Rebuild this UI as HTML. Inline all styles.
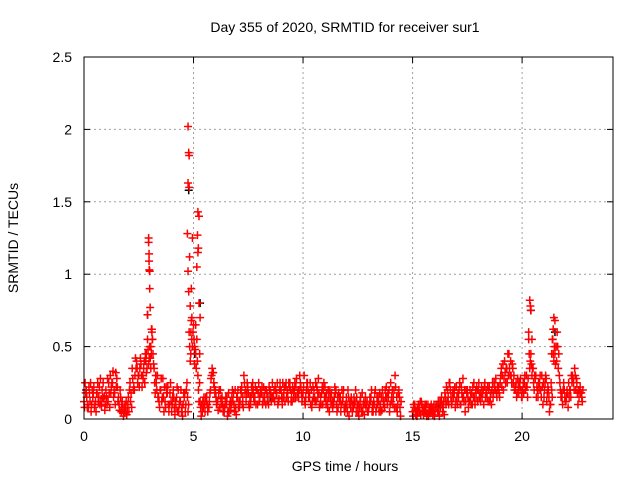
<!DOCTYPE html>
<html><head><meta charset="utf-8"><style>
body{margin:0;background:#fff;}
svg{display:block;font-family:"Liberation Sans",sans-serif;}
</style></head><body>
<svg id="chart" width="640" height="480" viewBox="0 0 640 480">
<rect x="0" y="0" width="640" height="480" fill="#fff"/>
<text x="345" y="32" font-size="14" text-anchor="middle" fill="#000">Day 355 of 2020, SRMTID for receiver sur1</text>
<text transform="translate(18,238) rotate(-90)" font-size="14" text-anchor="middle" fill="#000">SRMTID / TECUs</text>
<text x="345" y="471" font-size="14" text-anchor="middle" fill="#000">GPS time / hours</text>
<g id="grid"></g>
<g id="marks"></g>
<rect x="84" y="57" width="529" height="362" fill="none" stroke="#000" stroke-width="1"/>
<g id="ticks"></g>
</svg>
<script>
const xTicks=[0,5,10,15,20];
const yTicks=[0,0.5,1,1.5,2,2.5];
const yTickLabels=["0","0.5","1","1.5","2","2.5"];
const times=[
0,0.1,0.2,0.3,0.4,0.5,0.6,0.7,0.8,0.9,
1,1.1,1.2,1.3,1.4,1.5,1.6,1.7,1.8,1.9,
2,2.1,2.2,2.3,2.4,2.5,2.6,2.7,2.8,2.9,
3,3.1,3.2,3.3,3.4,3.5,3.6,3.7,3.8,3.9,
4,4.1,4.2,4.3,4.4,4.5,4.6,4.7,4.8,4.9,
5,5.1,5.2,5.3,5.4,5.5,5.6,5.7,5.8,5.9,
6,6.1,6.2,6.3,6.4,6.5,6.6,6.7,6.8,6.9,
7,7.1,7.2,7.3,7.4,7.5,7.6,7.7,7.8,7.9,
8,8.1,8.2,8.3,8.4,8.5,8.6,8.7,8.8,8.9,
9,9.1,9.2,9.3,9.4,9.5,9.6,9.7,9.8,9.9,
10,10.1,10.2,10.3,10.4,10.5,10.6,10.7,10.8,10.9,
11,11.1,11.2,11.3,11.4,11.5,11.6,11.7,11.8,11.9,
12,12.1,12.2,12.3,12.4,12.5,12.6,12.7,12.8,12.9,
13,13.1,13.2,13.3,13.4,13.5,13.6,13.7,13.8,13.9,
14,14.1,14.2,14.3,14.4,
15,15.1,15.2,15.3,15.4,15.5,15.6,15.7,15.8,15.9,
16,16.1,16.2,16.3,16.4,16.5,16.6,16.7,16.8,16.9,
17,17.1,17.2,17.3,17.4,17.5,17.6,17.7,17.8,17.9,
18,18.1,18.2,18.3,18.4,18.5,18.6,18.7,18.8,18.9,
19,19.1,19.2,19.3,19.4,19.5,19.6,19.7,19.8,19.9,
20,20.1,20.2,20.3,20.4,20.5,20.6,20.7,20.8,20.9,
21,21.1,21.2,21.3,21.4,21.5,21.6,21.7,21.8,21.9,
22,22.1,22.2,22.3,22.4,22.5,22.6,22.7];
const valsA=[
.12,.2,.08,.25,.15,.1,.18,.22,.09,.14,
.2,.12,.3,.25,.18,.28,.1,.05,.02,.08,
.1,.25,.35,.2,.4,.3,.38,.28,.45,.55,
.5,.62,.35,.25,.15,.2,.28,.12,.18,.1,
.05,.15,.08,.2,.12,.02,.18,.25,.6,.9,
.65,.45,.3,.12,.05,.1,.15,.08,.28,.32,
.2,.12,.08,.15,.05,.1,.18,.06,.12,.2,
.15,.08,.22,.3,.12,.18,.1,.25,.15,.2,
.12,.18,.22,.1,.15,.2,.25,.12,.18,.14,
.2,.15,.22,.18,.25,.12,.2,.28,.15,.22,
.18,.1,.25,.15,.08,.2,.12,.28,.15,.1,
.22,.12,.05,.18,.1,.2,.08,.15,.12,.05,
.1,.02,.15,.08,.2,.05,.12,.18,.03,.1,
.08,.15,.05,.2,.1,.18,.06,.12,.22,.15,
.25,.1,.3,.05,.15,
.05,.1,.02,.08,.12,.03,.06,.1,.04,.08,
.02,.1,.05,.12,.08,.15,.2,.25,.12,.18,
.22,.15,.1,.28,.05,.2,.12,.18,.25,.15,
.2,.12,.18,.25,.15,.22,.1,.18,.28,.2,
.25,.3,.4,.35,.45,.3,.25,.2,.28,.22,
.15,.25,.3,.55,.45,.35,.28,.2,.25,.3,
.15,.28,.2,.1,.55,.45,.6,.3,.18,.25,
.12,.08,.2,.3,.35,.25,.15,.18];
const valsB=[
.25,.08,.18,.1,.22,.05,.12,.28,.15,.06,
.1,.18,.22,.15,.32,.12,.2,.12,.08,.03,
.05,.18,.2,.42,.25,.35,.22,.4,.32,.38,
.35,.45,.18,.3,.08,.12,.05,.22,.1,.25,
.15,.03,.22,.1,.05,.18,.1,.05,.4,.5,
.38,.55,.12,.02,.08,.15,.05,.18,.35,.22,
.1,.18,.14,.05,.12,.02,.1,.15,.1,.03,
.08,.2,.15,.18,.25,.08,.22,.15,.1,.18,
.2,.1,.15,.18,.22,.12,.15,.2,.1,.25,
.1,.22,.15,.25,.12,.2,.15,.18,.3,.12,
.3,.2,.15,.1,.22,.12,.2,.08,.18,.25,
.1,.2,.15,.08,.22,.05,.15,.1,.2,.08,
.2,.12,.05,.1,.15,.02,.08,.1,.15,.05,
.15,.05,.1,.08,.12,.05,.15,.2,.1,.05,
.15,.2,.08,.18,.02,
.1,.03,.06,.12,.05,.08,.02,.05,.1,.06,
.08,.05,.12,.1,.03,.22,.1,.15,.2,.08,
.1,.25,.18,.12,.2,.08,.15,.22,.1,.2,
.15,.22,.1,.2,.12,.15,.25,.22,.15,.18,
.35,.2,.25,.45,.3,.38,.2,.15,.18,.2,
.25,.2,.15,.35,.3,.2,.15,.25,.2,.1,
.25,.18,.05,.2,.4,.5,.35,.2,.1,.15,
.2,.15,.3,.25,.2,.1,.22,.12];
const valsC=[
.08,.15,.22,.05,.18,.12,.25,.1,.2,.16,
.15,.25,.18,.33,.1,.22,.06,.1,.04,.12,
.15,.12,.28,.3,.35,.22,.3,.35,.4,.48,
.42,.55,.25,.2,.12,.28,.15,.08,.22,.18,
.1,.08,.15,.05,.2,.1,.05,.15,.5,.7,
.55,.35,.2,.08,.12,.05,.1,.12,.3,.25,
.15,.06,.2,.1,.08,.15,.05,.1,.18,.08,
.2,.12,.1,.25,.18,.1,.15,.2,.22,.1,
.15,.22,.12,.2,.1,.18,.15,.22,.25,.2,
.15,.18,.25,.12,.2,.22,.25,.15,.2,.18,
.22,.15,.2,.25,.12,.15,.22,.18,.1,.2,
.15,.08,.2,.12,.15,.1,.18,.05,.15,.1,
.05,.1,.12,.15,.05,.1,.15,.05,.1,.12,
.1,.2,.12,.05,.15,.1,.2,.08,.15,.2,
.12,.15,.22,.1,.08,
.02,.06,.08,.05,.1,.06,.1,.02,.08,.03,
.06,.08,.02,.15,.12,.1,.15,.2,.18,.22,
.15,.2,.22,.15,.12,.15,.2,.1,.15,.22,
.25,.18,.2,.15,.22,.12,.2,.25,.18,.22,
.3,.38,.32,.25,.35,.25,.3,.25,.22,.28,
.2,.3,.22,.45,.38,.25,.3,.15,.3,.22,
.2,.12,.15,.25,.45,.38,.5,.25,.15,.2,
.15,.25,.15,.28,.3,.18,.2,.15];
const valsD=[
.18,.1,.12,.2,.08,.18,.15,.12,.25,.1,
.28,.08,.25,.2,.22,.15,.15,.08,.1,.05,
.2,.08,.22,.35,.3,.42,.3,.25,.35,.42,
.45,.38,.3,.15,.2,.15,.22,.18,.05,.12,
.2,.12,.05,.12,.08,.15,.2,.1,.45,.6,
.48,.4,.25,.1,.15,.12,.08,.2,.32,.18,
.12,.2,.1,.08,.15,.05,.12,.2,.05,.15,
.12,.18,.08,.2,.22,.15,.18,.12,.2,.25,
.18,.15,.2,.12,.2,.15,.2,.18,.12,.2,
.25,.12,.2,.22,.18,.15,.22,.2,.25,.15,
.12,.25,.18,.2,.15,.25,.15,.1,.22,.15,
.18,.15,.1,.12,.18,.15,.12,.2,.08,.15,
.15,.08,.1,.12,.1,.08,.05,.12,.08,.05,
.12,.1,.18,.15,.05,.15,.1,.15,.18,.1,
.2,.08,.15,.2,.12,
.08,.05,.1,.03,.08,.1,.04,.08,.06,.1,
.1,.12,.08,.05,.18,.12,.25,.1,.15,.12,
.18,.1,.15,.2,.18,.12,.1,.15,.2,.12,
.18,.15,.22,.18,.2,.18,.15,.2,.22,.15,
.22,.28,.35,.3,.4,.35,.22,.18,.25,.15,
.18,.22,.28,.4,.35,.3,.22,.2,.15,.25,
.3,.22,.1,.15,.5,.4,.45,.15,.2,.12,
.18,.2,.25,.2,.28,.2,.18,.2];
const peakT=[2.95,2.95,2.97,2.97,2.98,3.0,3.0,3.02,2.9,3.08,3.1,3.12,3.05,2.85,2.8,
4.75,4.78,4.8,4.75,4.8,4.72,4.75,4.78,4.85,4.9,4.95,4.82,4.88,4.92,
5.2,5.25,5.18,5.22,5.2,5.15,5.25,5.3,5.1,5.05,5.28,
20.35,20.38,20.4,20.3,20.45,
21.45,21.5,21.42,21.38,21.55,21.35];
const peakV=[1.25,1.22,1.14,1.09,1.03,1.02,0.9,0.77,0.72,0.62,0.6,0.55,0.5,0.45,0.4,
2.02,1.84,1.82,1.63,1.6,1.28,1.02,0.88,0.78,0.68,1.25,1.12,0.6,0.55,
1.43,1.4,1.27,1.18,1.15,1.05,0.8,0.7,0.65,0.5,0.45,
0.82,0.78,0.75,0.6,0.55,
0.7,0.68,0.62,0.55,0.5,0.45];
const blackT=[4.78,5.3,2.9,5.05,0.1,8.5,12.3,16.2,20.4,21.5];
const blackV=[1.58,0.8,0.72,0.45,0.2,0.15,0.1,0.08,0.75,0.6];

const X0=84,X1=613,Y0=419,Y1=57,XMAX=24.15,YMAX=2.5;
const sx=v=>X0+(X1-X0)*v/XMAX;
const sy=v=>Y0-(Y0-Y1)*v/YMAX;
const NS="http://www.w3.org/2000/svg";
const grid=document.getElementById('grid'),ticks=document.getElementById('ticks'),marks=document.getElementById('marks');
function mk(tag,attrs,parent){const e=document.createElementNS(NS,tag);for(const k in attrs)e.setAttribute(k,attrs[k]);parent.appendChild(e);return e;}
xTicks.forEach(t=>{
 const x=sx(t);
 if(t>0){const g=mk('line',{x1:x,y1:Y0,x2:x,y2:Y1,stroke:'#a0a0a0','stroke-dasharray':'2,3'},grid);
 
 }
 const a=mk('line',{x1:x,y1:Y0,x2:x,y2:Y0-6,stroke:'#000'},ticks);
 
 
 mk('line',{x1:x,y1:Y1,x2:x,y2:Y1+6,stroke:'#000'},ticks);
 const l=mk('text',{x:x,y:441,'font-size':14,'text-anchor':'middle',fill:'#000'},ticks);
 l.textContent=String(t);
 
 
});
yTicks.forEach((t,i)=>{
 const y=sy(t);
 if(t>0&&t<YMAX){const g=mk('line',{x1:X0,y1:y,x2:X1,y2:y,stroke:'#a0a0a0','stroke-dasharray':'2,3'},grid);
 
 }
 const a=mk('line',{x1:X0,y1:y,x2:X0+6,y2:y,stroke:'#000'},ticks);
 
 
 mk('line',{x1:X1,y1:y,x2:X1-6,y2:y,stroke:'#000'},ticks);
 const l=mk('text',{x:72,y:y+5,'font-size':14,'text-anchor':'end',fill:'#000'},ticks);
 l.textContent=yTickLabels[i];
 
 
});
function plus(t,v,color){
 const x=sx(t),y=sy(v);
 const p=mk('path',{d:`M${x-4},${y}h8M${x},${y-4}v8`,stroke:color,'stroke-width':1.5,fill:'none'},marks);
 
 
}
blackT.forEach((t,i)=>plus(t,blackV[i],'#000'));
times.forEach((t,i)=>{
 plus(t,valsA[i],'#ff0000');
 plus(t+0.025,valsC[i],'#ff0000');
 plus(t+0.05,valsB[i],'#ff0000');
 plus(t+0.075,valsD[i],'#ff0000');
});
peakT.forEach((t,i)=>plus(t,peakV[i],'#ff0000'));
</script>
</body></html>
